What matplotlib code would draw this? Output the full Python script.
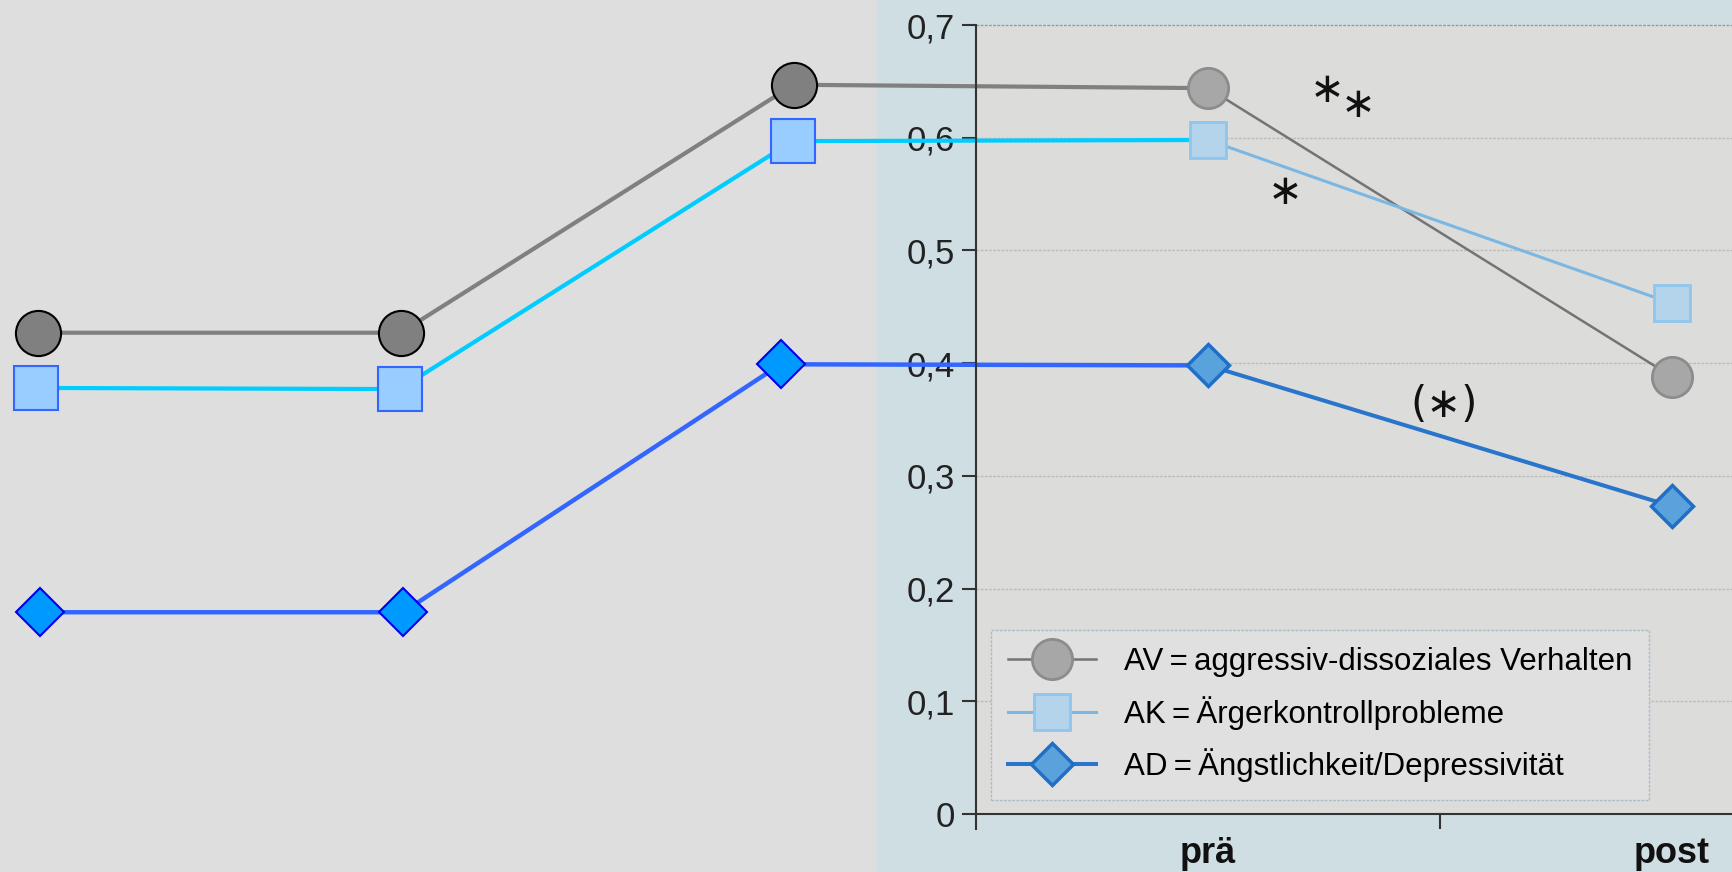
import matplotlib
matplotlib.use("Agg")
import matplotlib.pyplot as plt
from matplotlib import font_manager
from matplotlib.patches import Rectangle
from matplotlib.ticker import FixedLocator

# condensed sans if the system has one
names = {f.name for f in font_manager.fontManager.ttflist}
narrow = "Liberation Sans Narrow" if "Liberation Sans Narrow" in names else "Liberation Sans"
plt.rcParams["font.family"] = [narrow, "DejaVu Sans"]

# measurement occasions: three earlier ones, then prä / post
categories = ["prä", "post"]
cat_x = [1, 2]

av_early_x = [-1.522, -0.740, 0.107]
ak_early_x = [-1.526, -0.742, 0.105]
ad_early_x = [-1.518, -0.735, 0.079]

av_early = [0.427, 0.427, 0.647]
ak_early = [0.378, 0.377, 0.597]
ad_early = [0.179, 0.179, 0.399]

av = [0.644, 0.388]
ak = [0.598, 0.453]
ad = [0.398, 0.273]

labels = ["AV\u2009=\u2009aggressiv-dissoziales Verhalten",
          "AK\u2009=\u2009Ärgerkontrollprobleme",
          "AD\u2009=\u2009Ängstlichkeit/Depressivität"]
yticks = [0, 0.1, 0.2, 0.3, 0.4, 0.5, 0.6, 0.7]
signif = ["∗", "∗", "∗", "(∗)"]
signif_xy = [(1.256, 0.642), (1.323, 0.629), (1.166, 0.552), (1.509, 0.363)]

fig = plt.figure(figsize=(17.32, 8.72), dpi=100, facecolor="#dedede")
# tinted band behind the original chart
fig.patches.append(Rectangle((877 / 1732, 0), 1 - 877 / 1732, 1,
                             transform=fig.transFigure, color="#cfdee3", zorder=-10))

ax = fig.add_axes([0, 0, 1, 1])
ax.set_facecolor("none")
ax.set_xlim(-1.6034, 2.1293)
ax.set_ylim(-0.05146, 0.7222)

# plot area
ax.add_patch(Rectangle((0.5, 0), 2.2, 0.7, color="#dcdcdb", zorder=0))
for y in yticks[1:]:
    ax.plot([0.5, 2.2], [y, y], color="#bbbbbb" if y < 0.7 else "#9a9a9a",
            lw=1.0, ls=(0, (2, 1)), zorder=1)

# earlier occasions: thick lines running into the prä markers
ax.plot(av_early_x + [cat_x[0]], av_early + [av[0]], color="#808080", lw=3.0, zorder=3)
ax.plot(ak_early_x + [cat_x[0]], ak_early + [ak[0]], color="#00ccff", lw=3.0, zorder=3)
ax.plot(ad_early_x + [cat_x[0]], ad_early + [ad[0]], color="#3366ff", lw=3.2, zorder=3)

ax.plot(av_early_x, av_early, ls="none", marker="o", ms=32.5,
        mfc="#808080", mec="black", mew=1.5, zorder=4)
ax.plot(ak_early_x, ak_early, ls="none", marker="s", ms=31.5,
        mfc="#99ccff", mec="#3366ff", mew=1.5, zorder=4)
ax.plot(ad_early_x, ad_early, ls="none", marker="D", ms=24.5,
        mfc="#0099ff", mec="#0000ee", mew=1.5, zorder=4)

# prä / post
h_av, = ax.plot(cat_x, av, color="#747474", lw=1.8, marker="o", ms=29,
                mfc="#a7a7a7", mec="#8c8c8c", mew=2, zorder=5, label=labels[0])
h_ak, = ax.plot(cat_x, ak, color="#7ab8e3", lw=2.2, marker="s", ms=26.5,
                mfc="#b3d4ea", mec="#8ec6ee", mew=2, zorder=5, label=labels[1])
h_ad, = ax.plot(cat_x, ad, color="#2a75cc", lw=2.9, marker="D", ms=21.5,
                mfc="#5aa2dc", mec="#1f6fc8", mew=2.5, zorder=5, label=labels[2])

for s, (x, y) in zip(signif, signif_xy):
    ax.text(x, y, s, fontsize=30, ha="center", va="center", color="#111111",
            family=["DejaVu Sans"], zorder=6)

# axes
for side in ("top", "right"):
    ax.spines[side].set_visible(False)
ax.spines["left"].set_position(("data", 0.5))
ax.spines["bottom"].set_position(("data", 0))
ax.spines["left"].set_bounds(-0.013, 0.7)
ax.spines["bottom"].set_bounds(0.5, 2.2)
for side in ("left", "bottom"):
    ax.spines[side].set_linewidth(1.5)
    ax.spines[side].set_color("#333333")
    ax.spines[side].set_zorder(6)

ax.set_yticks(yticks)
ax.set_yticklabels([f"{t:.1f}".replace(".", ",") if t else "0" for t in yticks])
ax.tick_params(axis="y", direction="out", length=10, width=1.5, color="#333333",
               pad=5, labelsize=25, labelcolor="#222222")

ax.xaxis.set_major_locator(FixedLocator([1.5]))
ax.xaxis.set_minor_locator(FixedLocator(cat_x))
ax.set_xticklabels([""])
ax.set_xticklabels(categories, minor=True)
ax.tick_params(axis="x", which="major", direction="out", length=11, width=1.5, color="#333333")
ax.tick_params(axis="x", which="minor", length=0, pad=16, labelsize=26, labelcolor="#111111")
for t in ax.get_xticklabels(minor=True):
    t.set_fontweight("bold")

leg = ax.legend(handles=[h_av, h_ak, h_ad], loc="upper left",
                bbox_to_anchor=(991 / 1732, 1 - 630 / 872), bbox_transform=fig.transFigure,
                fontsize=22.5, frameon=True, fancybox=False, facecolor="#e0e0e0",
                edgecolor="#aabcc4", framealpha=1, handlelength=2.8, handletextpad=0.9,
                labelspacing=0.6, borderpad=0.55, borderaxespad=0)
leg.get_frame().set_linestyle((0, (2, 1)))
leg.set_zorder(7)

fig.savefig("out.png", dpi=100, facecolor=fig.get_facecolor())
